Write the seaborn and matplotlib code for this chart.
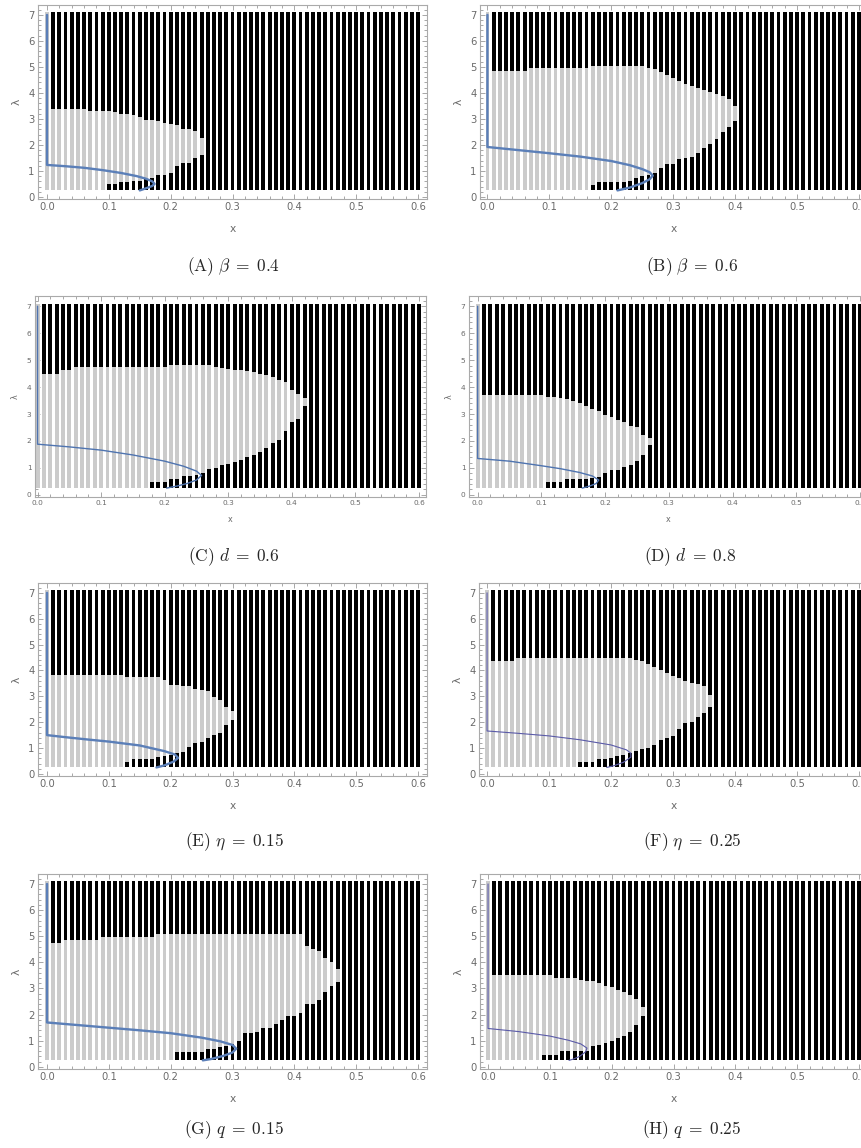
import numpy as np
import pandas as pd
import seaborn as sns
import matplotlib.pyplot as plt
from matplotlib.ticker import MultipleLocator, FormatStrFormatter

# bar positions x = 0.00 .. 0.60
x_bars = np.round(np.arange(0, 0.605, 0.01), 2)
lam_min, lam_max = 0.25, 7.1

# grey-region top (lambda) for x = 0.01, 0.02, ... up to the last grey bar
top_A = [3.40, 3.40, 3.40, 3.40, 3.40, 3.38, 3.30, 3.30, 3.30, 3.30, 3.28, 3.17, 3.17,
         3.15, 3.07, 2.97, 2.97, 2.92, 2.85, 2.80, 2.75, 2.62, 2.60, 2.55, 2.28]
# black lower segment top, starting at x = start
bot_A = [0.48, 0.48, 0.58, 0.58, 0.60, 0.60, 0.67, 0.72, 0.84, 0.84, 0.93, 1.17, 1.29,
         1.30, 1.48, 1.62]
start_A = 0.10
curve_x_A = [0, 0, 0.03, 0.06, 0.09, 0.12, 0.145, 0.16, 0.17, 0.174, 0.17, 0.16, 0.15]
curve_l_A = [7, 1.23, 1.18, 1.12, 1.03, 0.92, 0.80, 0.70, 0.60, 0.50, 0.42, 0.33, 0.25]

top_B = [4.85, 4.85, 4.85, 4.85, 4.85, 4.85,
         4.95, 4.95, 4.95, 4.95, 4.95, 4.95, 4.95, 4.95, 4.95, 4.95,
         5.05, 5.05, 5.05, 5.05, 5.05, 5.05, 5.05, 5.05,
         5.02, 4.95, 4.90, 4.80, 4.70, 4.58, 4.45, 4.35, 4.28, 4.20, 4.13, 4.02,
         3.95, 3.87, 3.75, 3.50]
bot_B = [0.47, 0.58, 0.58, 0.58, 0.58, 0.58, 0.60, 0.72, 0.82, 0.85, 0.93, 1.12, 1.27,
         1.28, 1.44, 1.50, 1.55, 1.68, 1.88, 2.04, 2.23, 2.50, 2.68, 2.92]
start_B = 0.17
curve_x_B = [0, 0, 0.05, 0.10, 0.15, 0.20, 0.23, 0.25, 0.262, 0.267, 0.262, 0.25, 0.23, 0.21]
curve_l_B = [7, 1.92, 1.80, 1.68, 1.55, 1.38, 1.22, 1.07, 0.95, 0.82, 0.68, 0.53, 0.36, 0.25]

top_C = [4.50, 4.50, 4.50, 4.62, 4.64,
         4.74, 4.74, 4.74, 4.74, 4.74, 4.74, 4.74, 4.74, 4.74, 4.74, 4.74, 4.74, 4.74,
         4.74, 4.74,
         4.82, 4.82, 4.82, 4.82, 4.82, 4.82, 4.82,
         4.76, 4.72, 4.66, 4.65, 4.63, 4.60, 4.55, 4.50, 4.45, 4.37, 4.27, 4.20, 3.90,
         3.75, 3.60]
bot_C = [0.48, 0.48, 0.48, 0.58, 0.58, 0.70, 0.70, 0.72, 0.80, 0.95, 1.00, 1.10, 1.13,
         1.22, 1.30, 1.40, 1.48, 1.59, 1.75, 1.93, 2.05, 2.36, 2.70, 2.82, 3.28]
start_C = 0.18
curve_x_C = [0, 0, 0.05, 0.10, 0.15, 0.20, 0.23, 0.25, 0.258, 0.25, 0.235, 0.22, 0.203]
curve_l_C = [7, 1.88, 1.78, 1.66, 1.48, 1.25, 1.06, 0.88, 0.72, 0.55, 0.42, 0.33, 0.25]

top_D = [3.70, 3.70, 3.70, 3.70, 3.70, 3.70, 3.70, 3.70, 3.70, 3.70,
         3.62, 3.62, 3.60, 3.55, 3.47, 3.42, 3.28, 3.20, 3.10, 2.97, 2.90, 2.79, 2.70,
         2.56, 2.50, 2.23, 2.10]
bot_D = [0.46, 0.46, 0.46, 0.58, 0.58, 0.58, 0.60, 0.62, 0.68, 0.80, 0.93, 0.93, 1.02,
         1.10, 1.24, 1.49, 1.86]
start_D = 0.11
curve_x_D = [0, 0, 0.05, 0.10, 0.13, 0.16, 0.18, 0.19, 0.186, 0.175, 0.164]
curve_l_D = [7, 1.35, 1.25, 1.08, 0.97, 0.83, 0.70, 0.55, 0.42, 0.32, 0.25]

top_E = [3.81, 3.81, 3.81, 3.81, 3.81, 3.81, 3.81, 3.81, 3.81, 3.81, 3.81, 3.81,
         3.76, 3.76, 3.76, 3.76, 3.76, 3.76,
         3.65, 3.42, 3.42, 3.40, 3.40, 3.27, 3.25, 3.20, 2.97, 2.85, 2.60, 2.45]
bot_E = [0.45, 0.58, 0.58, 0.58, 0.58, 0.65, 0.70, 0.72, 0.80, 0.83, 1.05, 1.20, 1.24,
         1.40, 1.50, 1.60, 1.90, 2.10]
start_E = 0.13
curve_x_E = [0, 0, 0.03, 0.07, 0.10, 0.15, 0.19, 0.207, 0.212, 0.205, 0.19, 0.177]
curve_l_E = [7, 1.50, 1.42, 1.32, 1.25, 1.10, 0.88, 0.75, 0.62, 0.48, 0.33, 0.25]

top_F = [4.38, 4.38, 4.38, 4.38,
         4.49, 4.49, 4.49, 4.49, 4.49, 4.49, 4.49, 4.49, 4.49, 4.49, 4.49, 4.49, 4.49,
         4.49, 4.49, 4.49, 4.49, 4.49, 4.49,
         4.40, 4.35, 4.25, 4.15, 4.00, 3.90, 3.80, 3.70, 3.60, 3.50, 3.49, 3.40, 3.05]
bot_F = [0.45, 0.45, 0.45, 0.58, 0.58, 0.60, 0.70, 0.72, 0.80, 0.90, 0.95, 1.00, 1.10,
         1.30, 1.40, 1.47, 1.75, 1.95, 2.00, 2.20, 2.35, 2.60]
start_F = 0.15
curve_x_F = [0, 0, 0.05, 0.10, 0.15, 0.20, 0.225, 0.232, 0.232, 0.22, 0.205, 0.193]
curve_l_F = [7, 1.66, 1.57, 1.47, 1.32, 1.12, 0.93, 0.80, 0.65, 0.45, 0.32, 0.25]

top_G = [4.75, 4.75,
         4.85, 4.85, 4.85, 4.85, 4.85, 4.85,
         4.96, 4.96, 4.96, 4.96, 4.96, 4.96, 4.96, 4.96, 4.96,
         5.08, 5.08, 5.08, 5.08, 5.08, 5.08, 5.08, 5.08, 5.08, 5.08, 5.08, 5.08,
         5.08, 5.08, 5.08, 5.08, 5.08, 5.08, 5.08, 5.08, 5.08, 5.08, 5.08, 5.08,
         4.62, 4.52, 4.45, 4.15, 4.00, 3.75]
bot_G = [0.58, 0.58, 0.58, 0.58, 0.58, 0.70, 0.70, 0.75, 0.80, 0.88, 1.00, 1.28, 1.30,
         1.35, 1.50, 1.50, 1.65, 1.80, 1.95, 1.95, 2.05, 2.40, 2.40, 2.55, 2.85, 3.10,
         3.25]
start_G = 0.21
curve_x_G = [0, 0, 0.05, 0.10, 0.15, 0.20, 0.25, 0.28, 0.30, 0.306, 0.30, 0.285, 0.265, 0.252]
curve_l_G = [7, 1.70, 1.60, 1.50, 1.40, 1.29, 1.12, 0.98, 0.84, 0.70, 0.55, 0.42, 0.30, 0.25]

top_H = [3.51, 3.51, 3.51, 3.51, 3.51, 3.51, 3.51, 3.51, 3.51, 3.51,
         3.40, 3.40, 3.40, 3.40,
         3.32, 3.30, 3.27, 3.20, 3.10, 3.05, 2.95, 2.85, 2.75, 2.60, 2.30]
bot_H = [0.47, 0.47, 0.47, 0.60, 0.60, 0.60, 0.60, 0.60, 0.81, 0.85, 0.90, 1.00, 1.10,
         1.20, 1.35, 1.59, 1.95]
start_H = 0.09
curve_x_H = [0, 0, 0.05, 0.10, 0.13, 0.15, 0.16, 0.158, 0.148, 0.138, 0.131]
curve_l_H = [7, 1.47, 1.35, 1.18, 1.02, 0.88, 0.72, 0.58, 0.40, 0.30, 0.25]

captions = [r"$(\mathrm{A})\ \beta\;=\;0.4$", r"$(\mathrm{B})\ \beta\;=\;0.6$",
            r"$(\mathrm{C})\ d\;=\;0.6$", r"$(\mathrm{D})\ d\;=\;0.8$",
            r"$(\mathrm{E})\ \eta\;=\;0.15$", r"$(\mathrm{F})\ \eta\;=\;0.25$",
            r"$(\mathrm{G})\ q\;=\;0.15$", r"$(\mathrm{H})\ q\;=\;0.25$"]

panels = [
    (top_A, bot_A, start_A, curve_x_A, curve_l_A),
    (top_B, bot_B, start_B, curve_x_B, curve_l_B),
    (top_C, bot_C, start_C, curve_x_C, curve_l_C),
    (top_D, bot_D, start_D, curve_x_D, curve_l_D),
    (top_E, bot_E, start_E, curve_x_E, curve_l_E),
    (top_F, bot_F, start_F, curve_x_F, curve_l_F),
    (top_G, bot_G, start_G, curve_x_G, curve_l_G),
    (top_H, bot_H, start_H, curve_x_H, curve_l_H),
]

# pixel boxes (left, right, top, bottom), x-limits, tick font size, curve style
W, H = 862, 1148
boxes = [(38, 427, 5, 199), (480, 868, 5, 199),
         (35, 426, 296, 497), (469, 867, 296, 497),
         (38, 427, 583, 776), (479, 868, 583, 776),
         (38, 427, 874, 1069), (480, 868, 874, 1069)]
xlims = [(-0.0146, 0.6146), (-0.012, 0.6146), (-0.004, 0.611), (-0.0136, 0.611),
         (-0.0146, 0.6146), (-0.013, 0.6146), (-0.0146, 0.6146), (-0.013, 0.6146)]
tick_fs = [7.2, 7.2, 5.3, 5.3, 7.2, 7.2, 7.2, 7.2]
xlabel_pad = [8, 8, 6, 6, 8, 8, 8, 8]
curve_style = [('#5b7fb8', 1.7), ('#5b7fb8', 1.7), ('#4f74b0', 1.0), ('#4f74b0', 1.0),
               ('#5b7fb8', 1.7), ('#5a5aa8', 0.8), ('#5b7fb8', 1.7), ('#5a5aa8', 0.8)]
cap_pos = [(234, 267), (692, 267), (234, 557), (690, 557),
           (234, 842), (692, 842), (234, 1130), (692, 1130)]

GREY, BLACK = '#cbcbcb', '#000000'


def segments(top, bot, start):
    rows = []
    s_idx = int(round(start * 100))
    for i, x in enumerate(x_bars):
        if i == 0:
            rows.append((x, lam_min, lam_max, GREY))
        elif i <= len(top):
            u = top[i - 1]
            low = lam_min
            if i >= s_idx:
                low = bot[i - s_idx]
                rows.append((x, lam_min, low, BLACK))
            rows.append((x, low, u, GREY))
            rows.append((x, u, lam_max, BLACK))
        else:
            rows.append((x, lam_min, lam_max, BLACK))
    return pd.DataFrame(rows, columns=['x', 'lo', 'hi', 'color'])


sns.set_theme(style="ticks")
plt.rcParams['font.family'] = ['DejaVu Sans']
plt.rcParams['mathtext.fontset'] = 'cm'

fig = plt.figure(figsize=(W / 100, H / 100), dpi=100)

for k, (top, bot, start, cx, cl) in enumerate(panels):
    l, r, t, b = boxes[k]
    ax = fig.add_axes([l / W, 1 - b / H, (r - l) / W, (b - t) / H])
    seg = segments(top, bot, start)
    ax.bar(seg['x'], seg['hi'] - seg['lo'], bottom=seg['lo'], width=0.0062,
           color=seg['color'], linewidth=0)
    col, lw = curve_style[k]
    sns.lineplot(x=cx, y=cl, sort=False, estimator=None, ax=ax, color=col, lw=lw)
    ax.set_xlim(*xlims[k])
    ax.set_ylim(-0.08, 7.38)
    ax.xaxis.set_major_locator(MultipleLocator(0.1))
    ax.xaxis.set_minor_locator(MultipleLocator(0.02))
    ax.yaxis.set_major_locator(MultipleLocator(1))
    ax.yaxis.set_minor_locator(MultipleLocator(0.2))
    ax.xaxis.set_major_formatter(FormatStrFormatter('%.1f'))
    ax.yaxis.set_major_formatter(FormatStrFormatter('%d'))
    fs = tick_fs[k]
    ax.tick_params(which='both', direction='in', top=True, right=True,
                   color='#999999', labelcolor='#6a6a6a', labelsize=fs, width=0.6, pad=2.5)
    ax.tick_params(which='major', length=3.5)
    ax.tick_params(which='minor', length=2)
    for sp in ax.spines.values():
        sp.set_color('#aaaaaa')
        sp.set_linewidth(0.8)
    ax.set_xlabel('x', fontsize=fs + 0.5, color='#6a6a6a', labelpad=xlabel_pad[k])
    ax.set_ylabel('λ', fontsize=fs + 0.5, color='#6a6a6a', labelpad=5)

for k, cap in enumerate(captions):
    cx, cy = cap_pos[k]
    fig.text(cx / W, 1 - cy / H, cap, ha='center', va='center', fontsize=12.5)

fig.savefig('out.png', dpi=100)
